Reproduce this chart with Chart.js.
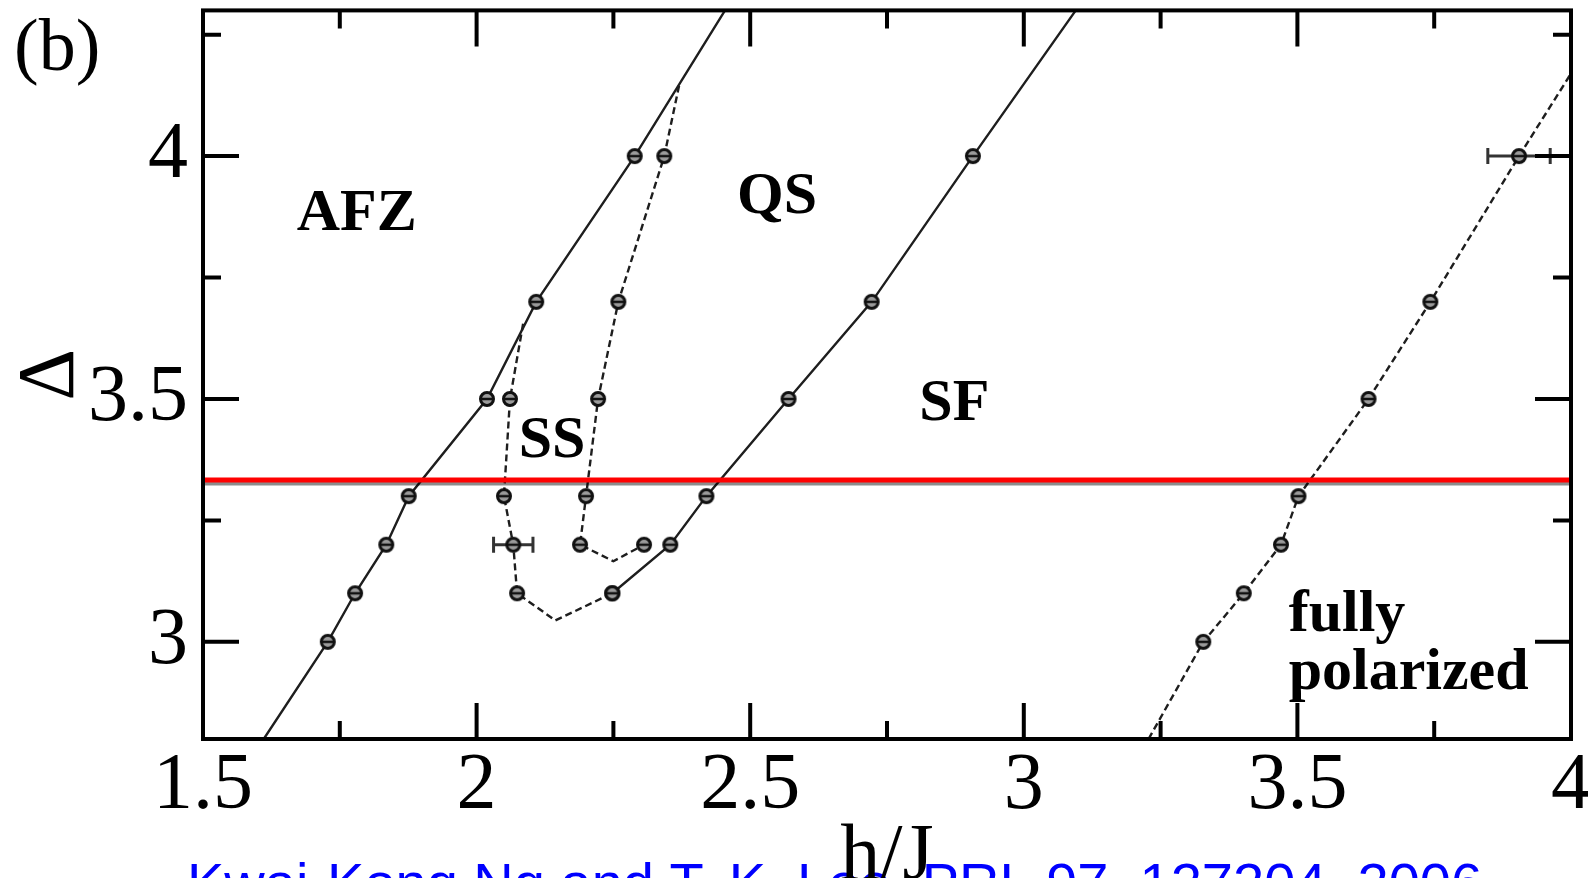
<!DOCTYPE html>
<html>
<head>
<meta charset="utf-8">
<title>Phase diagram (b)</title>
<script src="https://cdn.jsdelivr.net/npm/chart.js@4.4.1/dist/chart.umd.min.js"></script>
<style>
  html, body { margin: 0; padding: 0; background: #fff; }
  canvas { display: block; }
</style>
</head>
<body>
<canvas id="phaseChart" width="1588" height="878"></canvas>
<script>
// axis ticks
const xTicks = [1.5, 2, 2.5, 3, 3.5, 4];
const xMinorTicks = [1.75, 2.25, 2.75, 3.25, 3.75];
const yTicks = [3, 3.5, 4];
const yMinorTicks = [3.25, 3.75, 4.25];

// phase boundaries (h/J, Delta). mark = 1 where a data symbol sits
const afzH = [1.611, 1.728, 1.778, 1.835, 1.876, 2.019, 2.109, 2.289, 2.454];
const afzD = [2.8, 3.0, 3.1, 3.2, 3.3, 3.5, 3.7, 4.0, 4.3];
const afzMark = [0, 1, 1, 1, 1, 1, 1, 1, 0];

const ssOuterH = [2.085, 2.061, 2.05, 2.067, 2.074, 2.144, 2.248];
const ssOuterD = [3.655, 3.5, 3.3, 3.2, 3.1, 3.044, 3.1];
const ssOuterMark = [0, 1, 1, 1, 1, 0, 1];

const ssInnerH = [2.37, 2.343, 2.259, 2.222, 2.2, 2.189, 2.25, 2.306];
const ssInnerD = [4.145, 4.0, 3.7, 3.5, 3.3, 3.2, 3.166, 3.2];
const ssInnerMark = [0, 1, 1, 1, 1, 1, 0, 1];

const sfH = [2.248, 2.354, 2.42, 2.57, 2.722, 2.907, 3.095];
const sfD = [3.1, 3.2, 3.3, 3.5, 3.7, 4.0, 4.3];
const sfMark = [1, 1, 1, 1, 1, 1, 0];

const fpH = [3.228, 3.328, 3.402, 3.47, 3.502, 3.63, 3.743, 3.905, 4.0];
const fpD = [2.8, 3.0, 3.1, 3.2, 3.3, 3.5, 3.7, 4.0, 4.17];
const fpMark = [0, 1, 1, 1, 1, 1, 1, 1, 0];

// horizontal error bars
const errH = [2.067, 3.905];
const errD = [3.2, 4.0];
const errW = [0.036, 0.057];

// red cut
const cutH = [1.5, 4];
const cutD = 3.333;

const phaseNames = ['AFZ', 'QS', 'SS', 'SF', 'fully', 'polarized'];
const citation = 'Kwai-Kong Ng and T. K. Lee, PRL 97, 127204, 2006';

const serif = '"Liberation Serif", "DejaVu Serif", serif';

function makeMarker() {
    const c = document.createElement('canvas');
    c.width = 18;
    c.height = 18;
    const g = c.getContext('2d');
    g.beginPath();
    g.arc(9, 9, 6.5, 0, Math.PI * 2);
    g.fillStyle = '#9c9c9c';
    g.fill();
    g.lineWidth = 3;
    g.strokeStyle = '#111';
    g.stroke();
    g.beginPath();
    g.moveTo(2.5, 9);
    g.lineTo(15.5, 9);
    g.lineWidth = 2.5;
    g.stroke();
    return c;
}
const marker = makeMarker();

function boundary(label, hs, ds, marks, dashed) {
    return {
        label: label,
        data: hs.map((h, i) => ({ x: h, y: ds[i] })),
        showLine: true,
        borderColor: '#1e1e1e',
        borderWidth: 2.4,
        borderDash: dashed ? [7, 4] : [],
        pointStyle: marker,
        pointRadius: marks.map(m => m ? 8 : 0),
        pointHoverRadius: 0,
        fill: false,
        tension: 0
    };
}

const datasets = [
    {
        label: 'cut',
        data: cutH.map(h => ({ x: h, y: cutD })),
        showLine: true,
        borderColor: '#ff0000',
        borderWidth: 5,
        pointRadius: 0,
        fill: false
    },
    boundary('AFZ', afzH, afzD, afzMark, false),
    boundary('SS outer', ssOuterH, ssOuterD, ssOuterMark, true),
    boundary('SS inner', ssInnerH, ssInnerD, ssInnerMark, true),
    boundary('SF', sfH, sfD, sfMark, false),
    boundary('fully polarized', fpH, fpD, fpMark, true)
];

const framePlugin = {
    id: 'frame',
    beforeDraw(chart) {
        const ctx = chart.ctx;
        ctx.save();
        ctx.fillStyle = '#fff';
        ctx.fillRect(0, 0, chart.width, chart.height);
        ctx.font = '56px "Liberation Sans", Arial, sans-serif';
        ctx.fillStyle = '#0000ff';
        ctx.textBaseline = 'alphabetic';
        ctx.fillText(citation, 187, 902);
        ctx.restore();
    },
    beforeDatasetsDraw(chart) {
        const ctx = chart.ctx;
        const x = chart.scales.x, y = chart.scales.y;
        ctx.save();
        ctx.strokeStyle = '#333';
        ctx.lineWidth = 3;
        for (let i = 0; i < errH.length; i++) {
            const x0 = x.getPixelForValue(errH[i] - errW[i]);
            const x1 = x.getPixelForValue(errH[i] + errW[i]);
            const py = y.getPixelForValue(errD[i]);
            ctx.beginPath();
            ctx.moveTo(x0, py); ctx.lineTo(x1, py);
            ctx.moveTo(x0, py - 8); ctx.lineTo(x0, py + 8);
            ctx.moveTo(x1, py - 8); ctx.lineTo(x1, py + 8);
            ctx.stroke();
        }
        ctx.restore();
    },
    beforeDatasetDraw(chart, args) {
        if (args.index === 0) {
            chart.ctx.save();
            chart.ctx.shadowColor = 'rgba(0,0,0,0.45)';
            chart.ctx.shadowOffsetY = 3;
            chart.ctx.shadowBlur = 0;
        }
    },
    afterDatasetDraw(chart, args) {
        if (args.index === 0) chart.ctx.restore();
    },
    afterDatasetsDraw(chart) {
        const ctx = chart.ctx;
        const x = chart.scales.x, y = chart.scales.y;
        // where the phase names go, in data units
        const at = {
            'AFZ': [1.781, 3.88, 'center'],
            'QS': [2.549, 3.915, 'center'],
            'SS': [2.138, 3.413, 'center'],
            'SF': [2.873, 3.488, 'center'],
            'fully': [3.484, 3.022, 'left', 'alphabetic'],
            'polarized': [3.484, 2.902, 'left', 'alphabetic']
        };
        ctx.save();
        ctx.font = 'bold 60px ' + serif;
        ctx.fillStyle = '#000';
        phaseNames.forEach(name => {
            const p = at[name];
            ctx.textAlign = p[2];
            ctx.textBaseline = p[3] || 'middle';
            ctx.fillText(name, x.getPixelForValue(p[0]), y.getPixelForValue(p[1]));
        });
        ctx.restore();
    },
    afterDraw(chart) {
        const ctx = chart.ctx;
        const a = chart.chartArea;
        const x = chart.scales.x, y = chart.scales.y;
        ctx.save();
        ctx.strokeStyle = '#000';
        ctx.lineWidth = 4;
        ctx.strokeRect(a.left, a.top, a.right - a.left, a.bottom - a.top);
        ctx.beginPath();
        const xt = (vals, len) => vals.forEach(v => {
            const px = x.getPixelForValue(v);
            ctx.moveTo(px, a.bottom); ctx.lineTo(px, a.bottom - len);
            ctx.moveTo(px, a.top); ctx.lineTo(px, a.top + len);
        });
        const yt = (vals, len) => vals.forEach(v => {
            const py = y.getPixelForValue(v);
            ctx.moveTo(a.left, py); ctx.lineTo(a.left + len, py);
            ctx.moveTo(a.right, py); ctx.lineTo(a.right - len, py);
        });
        xt(xTicks, 36); xt(xMinorTicks, 18);
        yt(yTicks, 36); yt(yMinorTicks, 18);
        ctx.stroke();

        ctx.font = '74px ' + serif;
        ctx.fillStyle = '#000';
        ctx.textBaseline = 'alphabetic';
        ctx.fillText('(b)', 14, 70);
        ctx.restore();
    }
};

const ctx = document.getElementById('phaseChart').getContext('2d');
const chart = new Chart(ctx, {
    type: 'scatter',
    data: { datasets: datasets },
    plugins: [framePlugin],
    options: {
        responsive: false,
        animation: false,
        devicePixelRatio: 1,
        events: [],
        layout: { padding: { left: 0, top: 8, right: 17, bottom: 0 } },
        plugins: {
            legend: { display: false },
            tooltip: { enabled: false }
        },
        scales: {
            x: {
                type: 'linear',
                min: 1.5,
                max: 4,
                afterBuildTicks: s => { s.ticks = xTicks.map(v => ({ value: v })); },
                afterFit: s => { s.height = 139; s.paddingLeft = 0; s.paddingRight = 0; },
                grid: { display: false, drawTicks: false },
                border: { display: false },
                ticks: {
                    callback: v => String(v),
                    color: '#000',
                    padding: 0,
                    maxRotation: 0,
                    font: { family: serif, size: 80 }
                },
                title: {
                    display: true,
                    text: 'h/J',
                    color: '#000',
                    font: { family: serif, size: 80, lineHeight: 1 },
                    padding: { top: 0, bottom: -20 }
                }
            },
            y: {
                type: 'linear',
                min: 2.8,
                max: 4.3,
                afterBuildTicks: s => { s.ticks = yTicks.map(v => ({ value: v })); },
                afterFit: s => { s.width = 203; s.paddingTop = 0; s.paddingBottom = 0; },
                grid: { display: false, drawTicks: false },
                border: { display: false },
                ticks: {
                    callback: v => String(v),
                    color: '#000',
                    padding: 15,
                    font: { family: serif, size: 80 }
                },
                title: {
                    display: true,
                    text: 'Δ',
                    color: '#000',
                    font: { family: serif, size: 80, lineHeight: 1 },
                    padding: { top: 12, bottom: 0 }
                }
            }
        }
    }
});
</script>
</body>
</html>
